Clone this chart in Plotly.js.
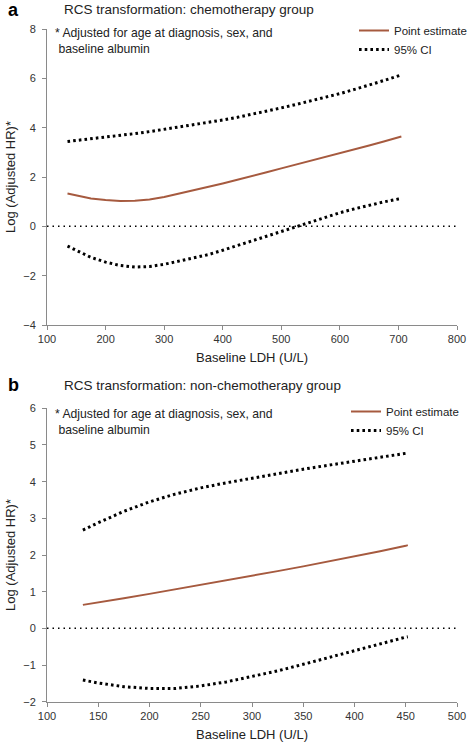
<!DOCTYPE html>
<html><head><meta charset="utf-8">
<script src="https://cdn.plot.ly/plotly-3.0.1.min.js"></script>
<style>html,body{margin:0;padding:0;background:#fff}#chart{width:472px;height:750px}</style>
</head><body><div id="chart"></div>
<script>
// Panel a: chemotherapy group
const ldhA   = [135, 150, 175, 200, 225, 250, 275, 300, 325, 350, 375, 400, 425, 450, 475, 500, 525, 550, 575, 600, 625, 650, 675, 700, 705];
const estA   = [1.33, 1.25, 1.13, 1.07, 1.03, 1.04, 1.09, 1.19, 1.32, 1.45, 1.59, 1.74, 1.89, 2.03, 2.19, 2.35, 2.50, 2.65, 2.81, 2.96, 3.12, 3.28, 3.44, 3.60, 3.64];
const upperA = [3.44, 3.48, 3.54, 3.61, 3.69, 3.76, 3.84, 3.93, 4.02, 4.11, 4.20, 4.31, 4.42, 4.54, 4.67, 4.80, 4.94, 5.08, 5.23, 5.38, 5.55, 5.72, 5.91, 6.10, 6.14];
const lowerA = [-0.80, -0.97, -1.26, -1.45, -1.59, -1.65, -1.63, -1.54, -1.42, -1.29, -1.15, -0.97, -0.78, -0.58, -0.38, -0.18, 0.01, 0.19, 0.37, 0.55, 0.71, 0.86, 0.99, 1.11, 1.13];

// Panel b: non-chemotherapy group
const ldhB   = [135, 150, 175, 200, 225, 250, 275, 300, 325, 350, 375, 400, 425, 450, 452];
const estB   = [0.64, 0.70, 0.82, 0.94, 1.06, 1.18, 1.31, 1.43, 1.56, 1.69, 1.82, 1.96, 2.10, 2.25, 2.27];
const upperB = [2.68, 2.88, 3.19, 3.45, 3.66, 3.83, 3.97, 4.10, 4.22, 4.34, 4.45, 4.56, 4.67, 4.77, 4.78];
const lowerB = [-1.41, -1.49, -1.59, -1.64, -1.64, -1.57, -1.46, -1.32, -1.16, -0.98, -0.79, -0.60, -0.41, -0.24, -0.23];

const xTicksA = [100, 200, 300, 400, 500, 600, 700, 800];
const yTicksA = [-4, -2, 0, 2, 4, 6, 8];
const xTicksB = [100, 150, 200, 250, 300, 350, 400, 450, 500];
const yTicksB = [-2, -1, 0, 1, 2, 3, 4, 5, 6];

const FONT = 'Liberation Sans, Arial, sans-serif';
const EST_COLOR = '#a65a3f';

const estLine = {color: EST_COLOR, width: 2};
const ciLine = {color: '#000', width: 3, dash: '2.6px,3.1px'};

const traces = [
  {x: ldhA, y: estA, type: 'scatter', mode: 'lines', name: 'Point estimate', line: estLine, xaxis: 'x', yaxis: 'y', legend: 'legend'},
  {x: ldhA, y: upperA, type: 'scatter', mode: 'lines', name: '95% CI', line: ciLine, xaxis: 'x', yaxis: 'y', legend: 'legend'},
  {x: ldhA, y: lowerA, type: 'scatter', mode: 'lines', name: '95% CI', line: ciLine, xaxis: 'x', yaxis: 'y', showlegend: false},
  {x: ldhB, y: estB, type: 'scatter', mode: 'lines', name: 'Point estimate', line: estLine, xaxis: 'x2', yaxis: 'y2', legend: 'legend2'},
  {x: ldhB, y: upperB, type: 'scatter', mode: 'lines', name: '95% CI', line: ciLine, xaxis: 'x2', yaxis: 'y2', legend: 'legend2'},
  {x: ldhB, y: lowerB, type: 'scatter', mode: 'lines', name: '95% CI', line: ciLine, xaxis: 'x2', yaxis: 'y2', showlegend: false}
];

const axisCommon = {
  showline: true, linecolor: '#8a8a8a', linewidth: 1,
  ticks: 'outside', ticklen: 4, tickcolor: '#8a8a8a',
  showgrid: false, zeroline: false,
  tickfont: {family: FONT, size: 11, color: '#333'},
  fixedrange: true
};

const W = 472, H = 750;
const px = v => v / W;
const py = v => 1 - v / H;
const titleFont = {family: FONT, size: 13, color: '#222'};

const layout = {
  width: W, height: H,
  margin: {l: 0, r: 0, t: 0, b: 0},
  paper_bgcolor: '#fff', plot_bgcolor: '#fff',
  font: {family: FONT, color: '#222'},
  xaxis: Object.assign({}, axisCommon, {domain: [px(47), px(457)], anchor: 'y', range: [100, 800], tickvals: xTicksA,
    title: {text: 'Baseline LDH (U/L)', font: titleFont, standoff: 8}}),
  yaxis: Object.assign({}, axisCommon, {domain: [py(325), py(29)], anchor: 'x', range: [-4, 8], tickvals: yTicksA, ticklabelstandoff: 4,
    title: {text: 'Log (Adjusted HR)*', font: titleFont, standoff: 4}}),
  xaxis2: Object.assign({}, axisCommon, {domain: [px(47), px(457)], anchor: 'y2', range: [100, 500], tickvals: xTicksB,
    title: {text: 'Baseline LDH (U/L)', font: titleFont, standoff: 8}}),
  yaxis2: Object.assign({}, axisCommon, {domain: [py(701.7), py(408.3)], anchor: 'x2', range: [-2, 6], tickvals: yTicksB, ticklabelstandoff: 4,
    title: {text: 'Log (Adjusted HR)*', font: titleFont, standoff: 4}}),
  legend: {x: px(354), y: py(16), xanchor: 'left', yanchor: 'top', bgcolor: 'rgba(0,0,0,0)',
    font: {family: FONT, size: 11.5, color: '#222'}, itemwidth: 30, tracegroupgap: 0},
  legend2: {x: px(346), y: py(397), xanchor: 'left', yanchor: 'top', bgcolor: 'rgba(0,0,0,0)',
    font: {family: FONT, size: 11.5, color: '#222'}, itemwidth: 30, tracegroupgap: 0},
  shapes: [
    {type: 'line', xref: 'x', yref: 'y', x0: 100, x1: 800, y0: 0, y1: 0, line: {color: '#000', width: 1.5, dash: '1.5px,4px'}},
    {type: 'line', xref: 'x2', yref: 'y2', x0: 100, x1: 500, y0: 0, y1: 0, line: {color: '#000', width: 1.5, dash: '1.5px,4px'}}
  ],
  annotations: [
    {text: '<b>a</b>', xref: 'paper', yref: 'paper', x: px(6), y: py(10), xanchor: 'left', yanchor: 'middle', showarrow: false, font: {family: FONT, size: 18, color: '#000'}},
    {text: 'RCS transformation: chemotherapy group', xref: 'paper', yref: 'paper', x: px(62), y: py(10), xanchor: 'left', yanchor: 'middle', showarrow: false, font: {family: FONT, size: 13.5, color: '#222'}},
    {text: '* Adjusted for age at diagnosis, sex, and<br> baseline albumin', align: 'left', xref: 'paper', yref: 'paper', x: px(53), y: py(24), xanchor: 'left', yanchor: 'top', showarrow: false, font: {family: FONT, size: 12.2, color: '#222'}},
    {text: '<b>b</b>', xref: 'paper', yref: 'paper', x: px(6), y: py(385), xanchor: 'left', yanchor: 'middle', showarrow: false, font: {family: FONT, size: 18, color: '#000'}},
    {text: 'RCS transformation: non-chemotherapy group', xref: 'paper', yref: 'paper', x: px(62), y: py(385), xanchor: 'left', yanchor: 'middle', showarrow: false, font: {family: FONT, size: 13.5, color: '#222'}},
    {text: '* Adjusted for age at diagnosis, sex, and<br> baseline albumin', align: 'left', xref: 'paper', yref: 'paper', x: px(53), y: py(405), xanchor: 'left', yanchor: 'top', showarrow: false, font: {family: FONT, size: 12.2, color: '#222'}}
  ]
};

Plotly.newPlot('chart', traces, layout, {displayModeBar: false, staticPlot: true});
</script>
</body></html>
